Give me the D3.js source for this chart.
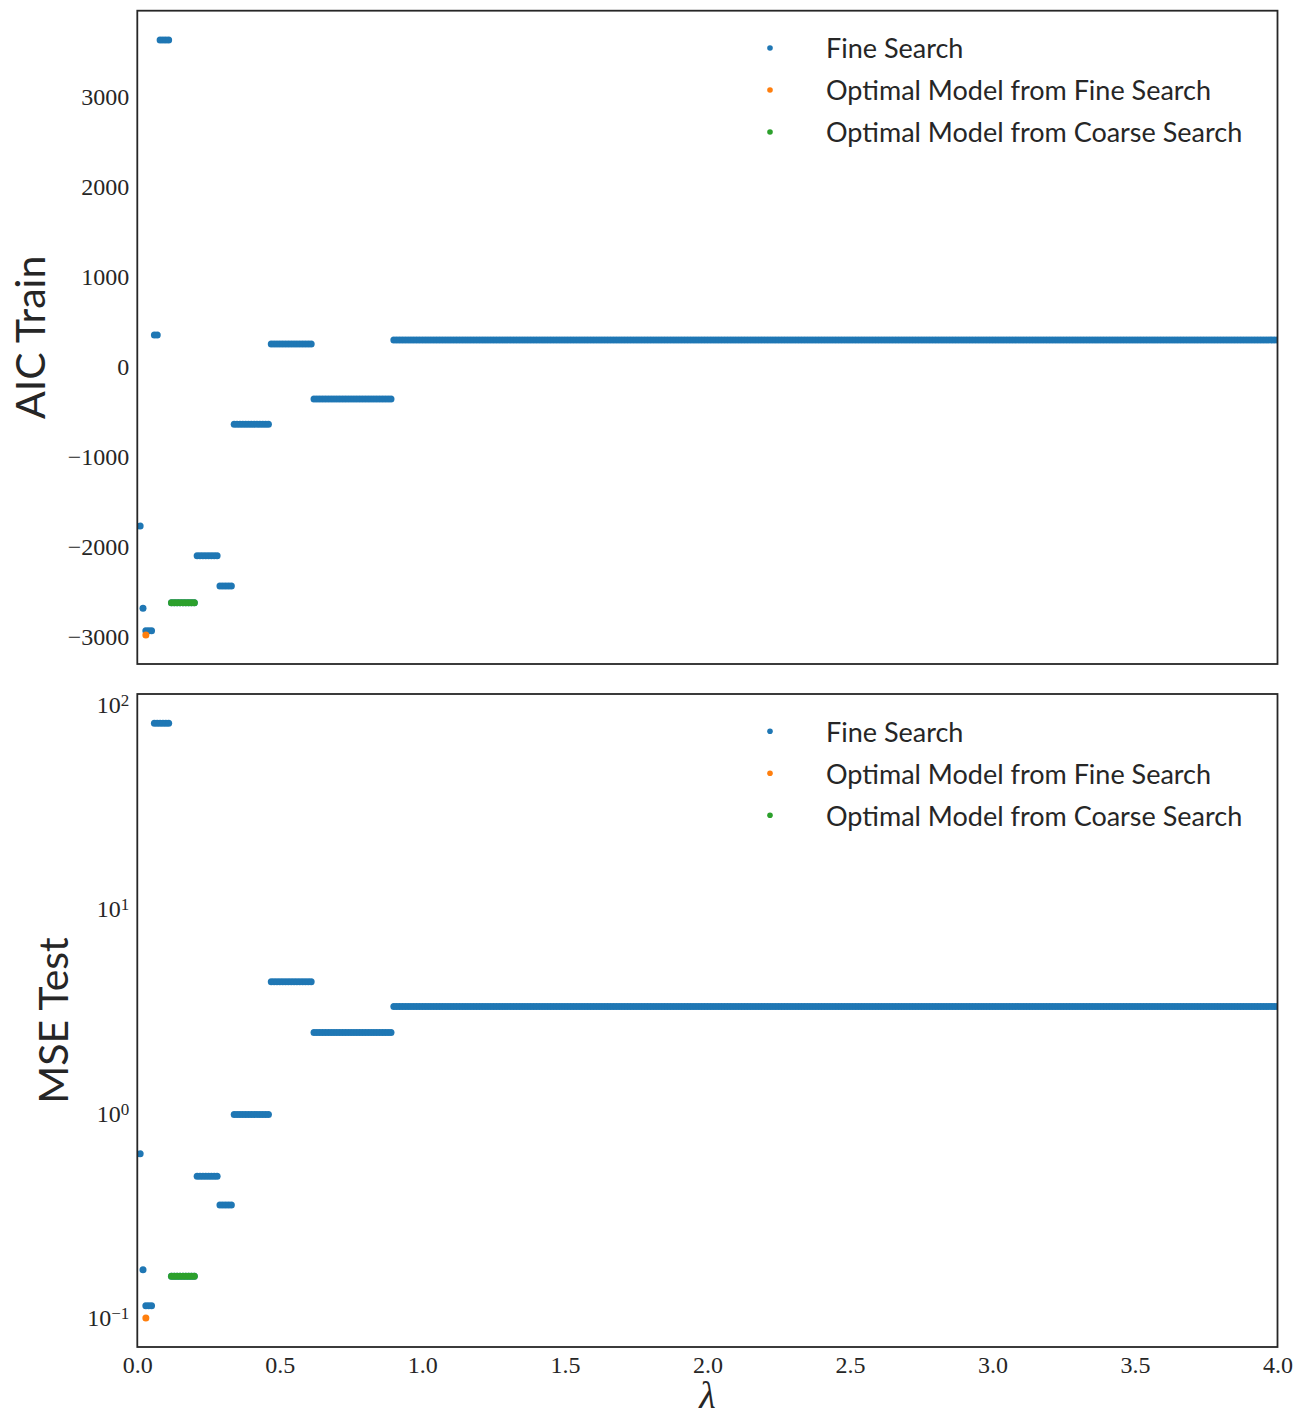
<!DOCTYPE html>
<html>
<head>
<meta charset="utf-8">
<script src="https://cdn.jsdelivr.net/npm/d3@7"></script>
<style>
  body { margin: 0; background: #fff; }
  .legendText { font-family: Lato, sans-serif; font-size: 27px; fill: #262626; }
  .axisText { font-family: Lato, sans-serif; font-size: 41px; fill: #262626; }
</style>
</head>
<body>
<div id="chart"></div>
<script>
// fine search steps: lambda start / end (inclusive, grid of 0.01) and value on each step
var stepStart = [0.01, 0.02, 0.03, 0.06, 0.08, 0.12, 0.21, 0.29, 0.34, 0.47, 0.62, 0.90];
var stepEnd   = [0.01, 0.02, 0.05, 0.07, 0.11, 0.20, 0.28, 0.33, 0.46, 0.61, 0.89, 4.00];
var aicTrain  = [-1765, -2678, -2927, 358, 3637, -2616, -2093, -2430, -633, 258, -352, 303];
var mseTest   = [0.635, 0.172, 0.1146, 80.9, 80.9, 0.160, 0.493, 0.357, 0.989, 4.41, 2.49, 3.34];

// optimal model from the fine search
var fineOptLambda = [0.03];
var fineOptAic = [-2974];
var fineOptMse = [0.100];

// optimal model from the coarse search (a run of lambdas with the same value)
var coarseOptStart = [0.12];
var coarseOptEnd = [0.20];
var coarseOptAic = [-2616];
var coarseOptMse = [0.160];

var xTicks = [0, 0.5, 1, 1.5, 2, 2.5, 3, 3.5, 4];
var aicTicks = [-3000, -2000, -1000, 0, 1000, 2000, 3000];
var mseTicks = [0.1, 1, 10, 100];
var legendLabels = ["Fine Search", "Optimal Model from Fine Search", "Optimal Model from Coarse Search"];
var colors = ["#1f77b4", "#ff7f0e", "#2ca02c"];

// expand steps into the 0.01 lambda grid
function expand(starts, ends, aic, mse) {
  var pts = [];
  starts.forEach(function(s, i) {
    d3.range(Math.round(s * 100), Math.round(ends[i] * 100) + 1).forEach(function(k) {
      pts.push({ lambda: k / 100, aic: aic[i], mse: mse[i] });
    });
  });
  return pts;
}

var fineData = expand(stepStart, stepEnd, aicTrain, mseTest);
var fineOptData = fineOptLambda.map(function(l, i) {
  return { lambda: l, aic: fineOptAic[i], mse: fineOptMse[i] };
});
var coarseOptData = expand(coarseOptStart, coarseOptEnd, coarseOptAic, coarseOptMse);

var svgWidth = 1305;
var svgHeight = 1418;
var left = 137.3, right = 1277.5;
var panels = [
  { top: 10.7, bottom: 664, key: "aic", label: "AIC Train", labelX: 45 },
  { top: 694, bottom: 1347, key: "mse", label: "MSE Test", labelX: 68 }
];

var svg = d3.select("#chart")
  .append("svg")
  .attr("width", svgWidth)
  .attr("height", svgHeight);

var xScale = d3.scaleLinear().domain([0, 4]).range([left, right]);

panels.forEach(function(p, pi) {
  var yScale;
  if (p.key === "aic") {
    yScale = d3.scaleLinear().domain([-3297, 3962]).range([p.bottom, p.top]);
  } else {
    yScale = d3.scaleLog().domain([0.0721, 112.6]).range([p.bottom, p.top]);
  }

  svg.append("clipPath")
    .attr("id", "clip" + pi)
    .append("rect")
    .attr("x", left)
    .attr("y", p.top)
    .attr("width", right - left)
    .attr("height", p.bottom - p.top);

  var plot = svg.append("g").attr("clip-path", "url(#clip" + pi + ")");

  [fineData, fineOptData, coarseOptData].forEach(function(data, si) {
    plot.selectAll(".s" + si)
      .data(data)
      .enter()
      .append("circle")
      .attr("class", "s" + si)
      .attr("cx", function(d) { return xScale(d.lambda); })
      .attr("cy", function(d) { return yScale(d[p.key]); })
      .attr("r", 3.5)
      .attr("fill", colors[si]);
  });

  // y axis
  var yAxis = d3.axisLeft(yScale).tickSize(0).tickPadding(8);
  if (p.key === "aic") {
    yAxis.tickValues(aicTicks).tickFormat(d3.format("d"));
  } else {
    yAxis.tickValues(mseTicks).tickFormat("");
  }
  var yG = svg.append("g")
    .attr("transform", "translate(" + left + ",0)")
    .call(yAxis)
    .attr("font-family", "'Liberation Serif', serif")
    .attr("font-size", 24);
  yG.select(".domain").remove();
  yG.selectAll(".tick text").attr("fill", "#262626");

  if (p.key === "mse") {
    yG.selectAll(".tick text").each(function(d) {
      var t = d3.select(this);
      t.append("tspan").text("10");
      t.append("tspan")
        .attr("dy", "-0.42em")
        .attr("font-size", 17)
        .text(String(Math.round(Math.log10(d))).replace("-", "\u2212"));
    });
  }

  if (pi === 1) {
    var xG = svg.append("g")
      .attr("transform", "translate(0," + p.bottom + ")")
      .call(d3.axisBottom(xScale).tickValues(xTicks).tickSize(0).tickPadding(9).tickFormat(d3.format(".1f")))
      .attr("font-family", "'Liberation Serif', serif")
      .attr("font-size", 24);
    xG.select(".domain").remove();
    xG.selectAll(".tick text").attr("fill", "#262626");
  }

  // frame
  svg.append("rect")
    .attr("x", left)
    .attr("y", p.top)
    .attr("width", right - left)
    .attr("height", p.bottom - p.top)
    .attr("fill", "none")
    .attr("stroke", "#262626")
    .attr("stroke-width", 1.8);

  // y label
  svg.append("text")
    .attr("class", "axisText")
    .attr("transform", "translate(" + p.labelX + "," + ((p.top + p.bottom) / 2) + ") rotate(-90)")
    .attr("text-anchor", "middle")
    .text(p.label);

  // legend
  var legend = svg.append("g").attr("transform", "translate(0," + p.top + ")");
  legendLabels.forEach(function(lab, i) {
    legend.append("circle")
      .attr("cx", 770)
      .attr("cy", 37.3 + i * 42)
      .attr("r", 2.8)
      .attr("fill", colors[i]);
    legend.append("text")
      .attr("class", "legendText")
      .attr("x", 826)
      .attr("y", 37.3 + i * 42)
      .attr("dominant-baseline", "central")
      .text(lab);
  });
});

// x label
svg.append("text")
  .attr("x", (left + right) / 2)
  .attr("y", 1408)
  .attr("text-anchor", "middle")
  .attr("font-family", "'Liberation Serif', serif")
  .attr("font-style", "italic")
  .attr("font-size", 38)
  .attr("fill", "#262626")
  .text("\u03bb");
</script>
</body>
</html>
